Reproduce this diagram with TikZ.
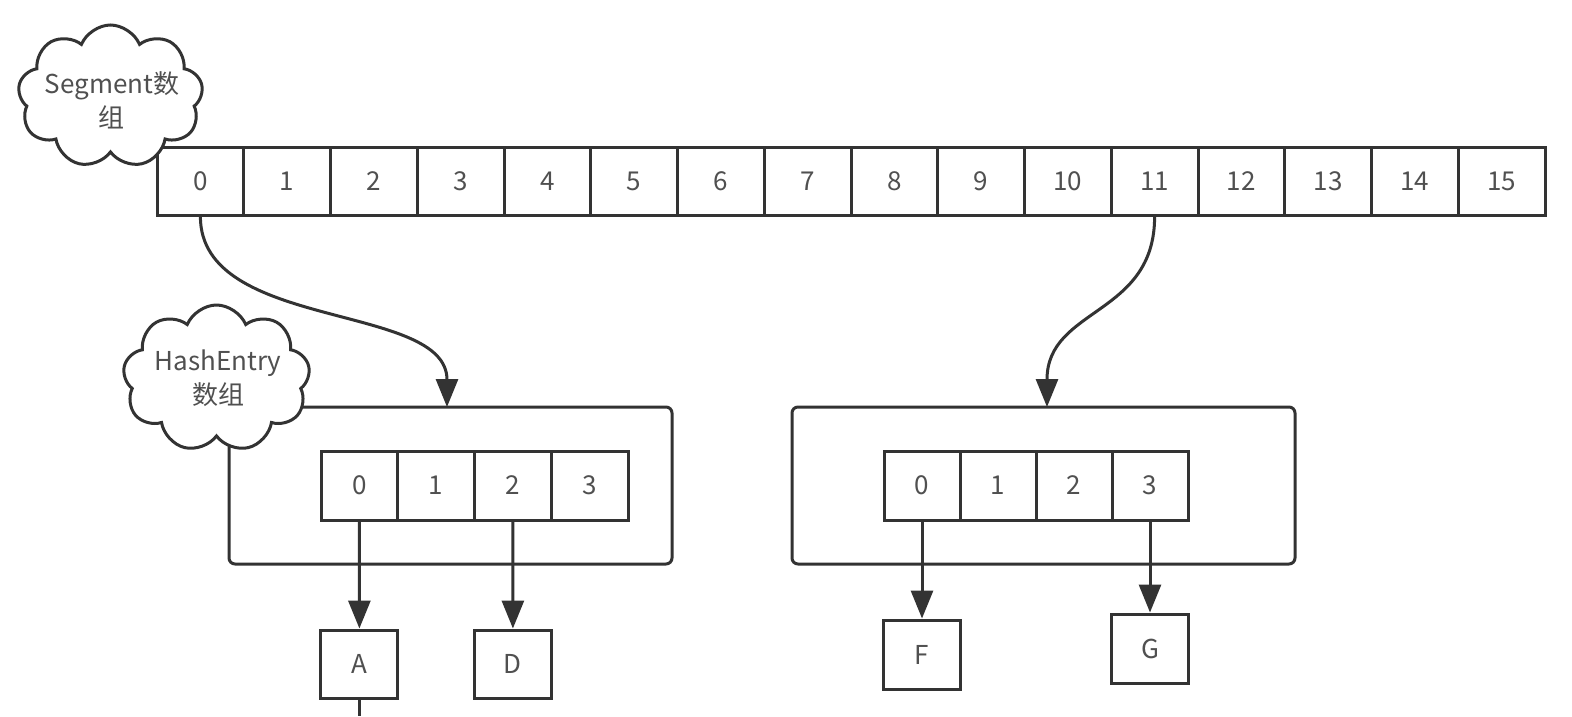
\documentclass[tikz,border=0pt]{standalone}
\usepackage{fontspec}
\setmainfont{Noto Sans CJK SC}
\usetikzlibrary{shapes.symbols,arrows.meta}
\definecolor{ln}{HTML}{333333}
\definecolor{tx}{HTML}{505050}
\begin{document}
\begin{tikzpicture}[x=1pt,y=-1pt,
  every node/.style={text=tx,font=\fontsize{26}{34}\selectfont},
  cell/.style={draw=ln,line width=3pt,fill=white,minimum height=68pt,inner sep=0pt,anchor=center},
  outer/.style={draw=ln,line width=3pt,rounded corners=6pt,inner sep=0pt},
  cloudbox/.style={cloud,cloud puffs=9,cloud puff arc=135,draw=ln,line width=3pt,fill=white,inner sep=0pt},
  arr/.style={draw=ln,line width=3pt,-{Triangle[length=28pt,width=22pt]}},
  plain/.style={draw=ln,line width=3pt}
]
\fill[white] (0,0) rectangle (1572,716);
\useasboundingbox (0,0) rectangle (1572,716);

% segment array
\foreach \i in {0,...,15}
  \node[cell,minimum width=86.75pt] (s\i) at ({157+(\i+0.5)*86.75},181) {\i};

% outer boxes
\node[outer,minimum width=443pt,minimum height=157pt] (boxL) at (450.5,485.5) {};
\node[outer,minimum width=503pt,minimum height=157pt] (boxR) at (1043.5,485.5) {};

% inner arrays
\foreach \i in {0,...,3}
  \node[cell,minimum width=76.75pt,minimum height=69pt] (L\i) at ({321+(\i+0.5)*76.75},485.5) {\i};
\foreach \i in {0,...,3}
  \node[cell,minimum width=76pt,minimum height=69pt] (R\i) at ({884+(\i+0.5)*76},485.5) {\i};

% leaves
\node[cell,minimum width=77pt,minimum height=68pt] (A) at (359.4,664) {A};
\node[cell,minimum width=77pt,minimum height=68pt] (D) at (512.9,664) {D};
\node[cell,minimum width=77pt,minimum height=69pt] (F) at (922,654.5) {F};
\node[cell,minimum width=77pt,minimum height=69pt] (G) at (1150,648.5) {G};

% clouds
\node[cloudbox,minimum width=185pt,minimum height=143pt] (c1) at (110.5,96.5) {};
\node[align=center] (c1t) at (112,100) {Segment数\\组};
\node[cloudbox,minimum width=187pt,minimum height=147pt] (c2) at (216.5,378.5) {};
\node[align=center] (c2t) at (218,378) {HashEntry\\数组};

% connectors
\coordinate (tipL) at (447,407);
\coordinate (tipR) at (1047,407);
\coordinate (Aout) at (359.4,716);
\draw[arr] (s0.south) .. controls +(0,115) and +(0,-105) .. (tipL);
\draw[arr] (s11.south) .. controls +(0,100) and +(0,-100) .. (tipR);
\draw[arr] (L0.south) -- (A.north);
\draw[arr] (L2.south) -- (D.north);
\draw[arr] (R0.south) -- (F.north);
\draw[arr] (R3.south) -- (G.north);
\draw[plain] (A.south) -- (Aout);
\end{tikzpicture}
\end{document}
